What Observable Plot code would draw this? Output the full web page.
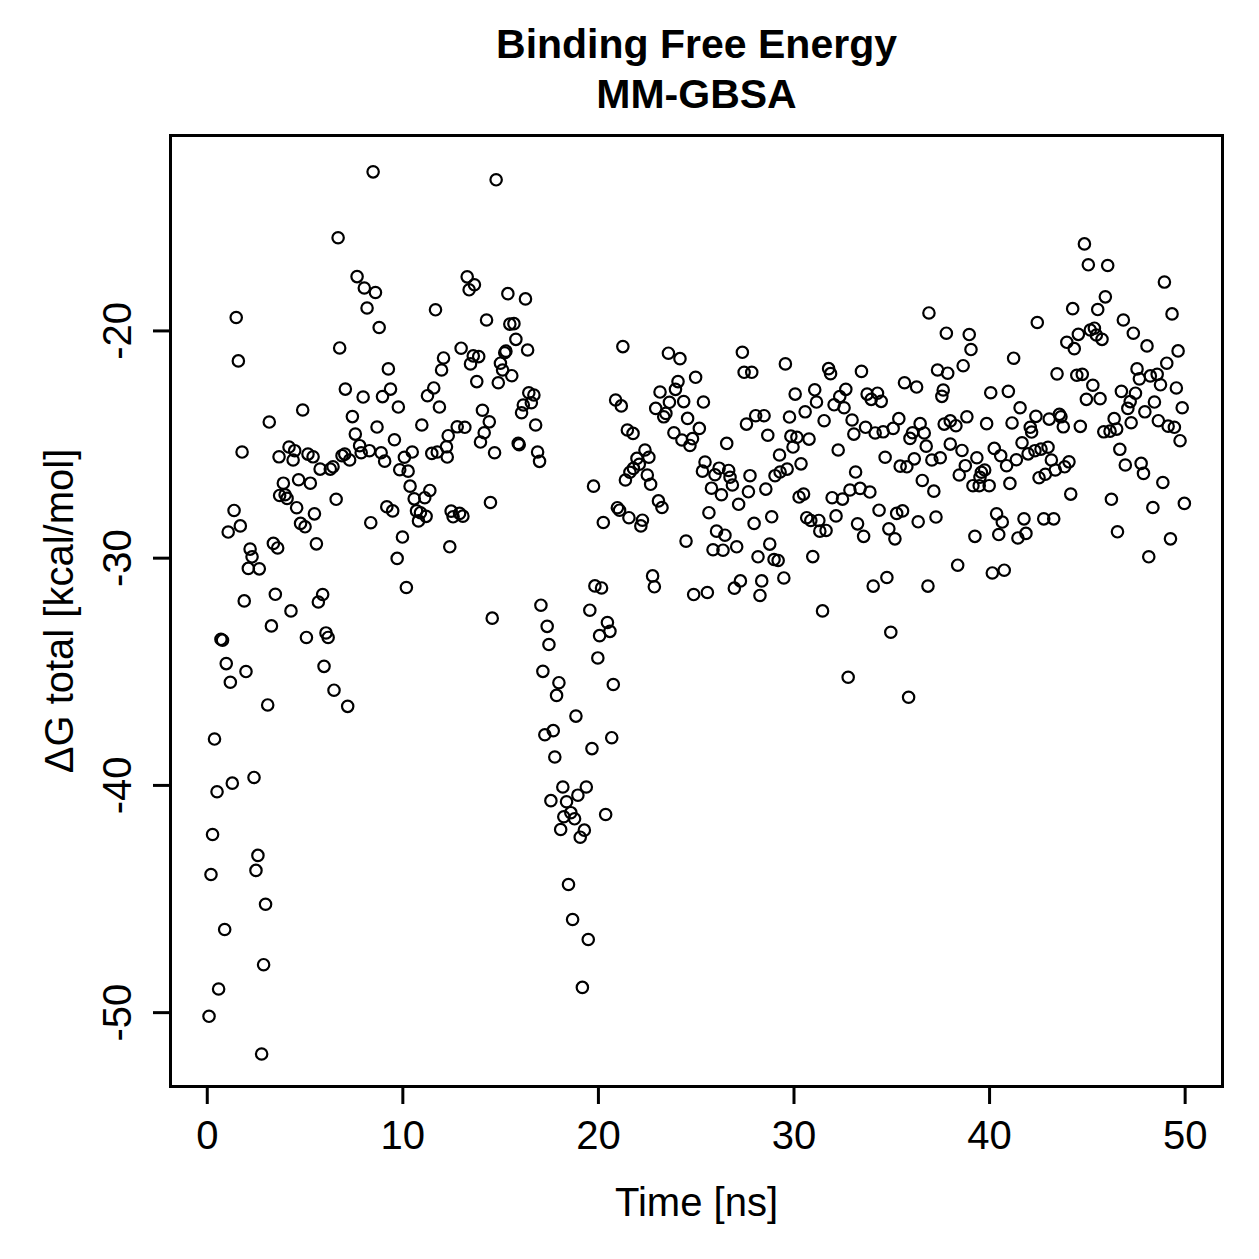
<!DOCTYPE html>
<html>
<head>
<meta charset="utf-8">
<script src="https://cdn.jsdelivr.net/npm/d3@7"></script>
<script src="https://cdn.jsdelivr.net/npm/@observablehq/plot@0.6"></script>
<style>
  html, body { margin: 0; padding: 0; background: #fff; }
  #chart svg { display: block; }
</style>
</head>
<body>
<div id="chart"></div>
<script>
// MM-GBSA binding free energy per frame: [time (ns), ΔG total (kcal/mol)]
const segmentEarly = [
  [0.09,-50.16],[0.19,-43.92],[0.27,-42.16],[0.37,-37.96],[0.50,-40.28],[0.58,-48.96],[0.70,-33.57],[0.78,-33.61],
  [0.89,-46.34],[0.97,-34.64],[1.07,-28.85],[1.18,-35.46],[1.28,-39.90],[1.37,-27.90],[1.48,-19.41],[1.59,-21.32],
  [1.69,-28.58],[1.78,-25.33],[1.89,-31.88],[1.98,-34.99],[2.10,-30.45],[2.19,-29.60],[2.29,-29.94],[2.39,-39.65],
  [2.49,-43.74],[2.59,-43.08],[2.66,-30.47],[2.78,-51.82],[2.88,-47.89],[2.98,-45.23],[3.09,-36.46],[3.17,-24.01],
  [3.28,-32.98],[3.38,-29.35],[3.48,-31.59],[3.60,-29.55],[3.67,-25.54],[3.70,-27.24],[3.89,-26.70],[3.98,-27.21],
  [4.08,-27.37],[4.18,-25.11],[4.28,-32.32],[4.39,-25.68],[4.47,-25.27],[4.57,-27.78],[4.67,-26.55],[4.77,-28.47],
  [4.88,-23.48],[5.00,-28.62],[5.07,-33.49],[5.15,-25.42],[5.27,-26.70],[5.41,-25.54],[5.48,-28.05],[5.58,-29.37],
  [5.68,-31.93],[5.77,-26.08],[5.90,-31.60],[5.97,-34.76],[6.07,-33.29],[6.18,-33.49],[6.29,-26.08],[6.43,-25.98],
  [6.48,-35.81],[6.59,-27.41],[6.69,-15.90],[6.77,-20.75],[6.89,-25.49],[7.03,-25.42],[7.06,-22.56],[7.18,-36.52],
  [7.28,-25.68],[7.42,-23.77],[7.57,-24.54],[7.66,-17.61],[7.79,-25.05],[7.87,-25.36],[7.97,-22.91],[8.03,-18.11],
  [8.17,-18.99],[8.29,-25.27],[8.36,-28.44],[8.48,-13.00],[8.60,-18.31],[8.68,-24.23],[8.79,-19.85],[8.89,-25.36],
  [8.96,-22.89],[9.07,-25.73],[9.18,-27.74],[9.26,-21.67],[9.37,-22.56],[9.48,-27.92],[9.57,-24.79],[9.71,-30.01],
  [9.77,-23.35],[9.84,-26.11],[9.98,-29.07],[10.08,-25.56],[10.18,-31.29],[10.27,-26.17],[10.37,-26.83],[10.48,-25.33],
  [10.58,-27.39],[10.70,-27.92],[10.80,-28.36],[10.90,-28.00],[10.97,-24.14],[11.12,-27.34],[11.19,-28.16],[11.26,-22.85],
  [11.38,-27.02],[11.48,-25.39],[11.58,-22.51],[11.67,-19.07],[11.76,-25.33],[11.87,-23.35],[11.98,-21.72],[12.08,-21.19],
  [12.23,-25.10],[12.27,-25.55],[12.32,-24.61],[12.40,-29.50],[12.47,-27.93],[12.57,-28.18]
];

const segmentMiddle = [
  [12.78,-24.22],[12.90,-28.03],[12.98,-20.76],[13.07,-28.15],[13.17,-24.24],[13.29,-17.62],[13.39,-18.19],[13.46,-21.45],
  [13.60,-21.10],[13.66,-17.97],[13.78,-22.23],[13.88,-21.13],[13.97,-24.89],[14.07,-23.49],[14.16,-24.48],[14.28,-19.52],
  [14.42,-24.00],[14.48,-27.55],[14.57,-32.64],[14.69,-25.36],[14.77,-13.35],[14.88,-22.28],[14.99,-21.42],[15.10,-21.72],
  [15.21,-20.96],[15.27,-20.89],[15.37,-18.36],[15.47,-19.70],[15.57,-21.97],[15.68,-19.68],[15.78,-20.37],[15.90,-24.95],
  [15.95,-25.01],[16.07,-23.60],[16.16,-23.26],[16.27,-18.59],[16.38,-20.84],[16.44,-22.72],[16.57,-23.16],[16.70,-22.82],
  [16.79,-24.14],[16.89,-25.33],[16.99,-25.74],[17.06,-32.07],[17.16,-34.98],[17.26,-37.77],[17.38,-33.00],[17.47,-33.80],
  [17.57,-40.67],[17.69,-37.59],[17.77,-38.75],[17.86,-36.04],[17.98,-35.48],[18.07,-41.94],[18.18,-40.07],[18.23,-41.38],
  [18.37,-40.72],[18.47,-44.36],[18.59,-41.20],[18.68,-45.90],[18.78,-41.47],[18.85,-36.95],[18.95,-40.43],[19.07,-42.28],
  [19.18,-48.89],[19.28,-41.97],[19.38,-40.07],[19.48,-46.78],[19.56,-32.29],[19.67,-38.38],[19.75,-26.83],[19.82,-31.22],
  [19.97,-34.39],[20.06,-33.41],[20.16,-31.31],[20.25,-28.43],[20.37,-41.28],[20.46,-32.83],[20.59,-33.22],[20.68,-37.90],
  [20.76,-35.56],[20.88,-23.04],[20.97,-27.78],[21.08,-27.89],[21.17,-23.30],[21.25,-20.69],[21.38,-26.56],[21.48,-24.36],
  [21.56,-28.22],[21.61,-26.22],[21.77,-24.51],[21.79,-26.05],[21.97,-25.61],[22.09,-25.87],[22.17,-28.58],[22.25,-28.33],
  [22.38,-25.24],[22.50,-26.34],[22.58,-25.56],[22.67,-26.75],[22.77,-30.78],[22.86,-31.26],[22.93,-23.41],[23.07,-27.48],
  [23.15,-22.69],[23.25,-27.77],[23.34,-23.78],[23.45,-23.63],[23.58,-20.98],[23.63,-23.14],[23.86,-24.48],[23.94,-22.57],
  [24.07,-22.23],[24.17,-21.22],[24.27,-24.80],[24.36,-23.11],[24.48,-29.25],[24.56,-23.85],[24.68,-25.04],[24.81,-24.74],
  [24.87,-31.60]
];

const segmentLate = [
  [24.97,-22.04],[25.16,-24.29],[25.32,-26.17],[25.37,-23.13],[25.45,-25.77],[25.57,-31.51],[25.65,-28.00],[25.78,-26.92],
  [25.86,-29.63],[25.96,-26.33],[26.04,-28.81],[26.17,-26.04],[26.29,-27.21],[26.37,-29.65],[26.47,-28.99],[26.56,-24.95],
  [26.66,-26.14],[26.73,-26.44],[26.85,-26.78],[26.95,-31.32],[27.07,-29.50],[27.17,-27.63],[27.26,-31.00],[27.36,-20.94],
  [27.45,-21.82],[27.57,-24.10],[27.67,-27.08],[27.75,-26.37],[27.84,-21.82],[27.96,-28.47],[28.04,-23.73],[28.16,-29.94],
  [28.26,-31.64],[28.35,-31.00],[28.47,-23.73],[28.56,-26.96],[28.66,-24.59],[28.76,-29.38],[28.86,-28.18],[28.98,-30.06],
  [29.03,-26.37],[29.19,-30.10],[29.26,-25.46],[29.29,-26.21],[29.48,-30.87],[29.56,-21.45],[29.65,-26.08],[29.77,-23.79],
  [29.84,-24.63],[29.95,-25.11],[30.06,-22.78],[30.15,-24.68],[30.26,-27.31],[30.36,-25.85],[30.49,-27.18],[30.57,-23.56],
  [30.65,-28.22],[30.77,-24.76],[30.86,-28.34],[30.96,-29.93],[31.06,-22.59],[31.15,-23.13],[31.27,-28.34],[31.32,-28.81],
  [31.46,-32.32],[31.54,-23.95],[31.64,-28.78],[31.77,-21.66],[31.87,-21.88],[31.95,-27.34],[32.05,-23.25],[32.15,-28.14],
  [32.26,-25.24],[32.34,-22.89],[32.48,-27.40],[32.56,-23.38],[32.65,-22.57],[32.77,-35.24],[32.86,-27.00],[32.97,-23.92],
  [33.06,-24.54],[33.15,-26.21],[33.25,-28.49],[33.38,-26.93],[33.45,-21.78],[33.56,-29.04],[33.66,-24.24],[33.74,-22.78],
  [33.88,-27.09],[33.95,-23.01],[34.05,-31.23],[34.15,-24.49],[34.27,-22.74],[34.35,-27.89],[34.46,-23.10],[34.56,-24.44],
  [34.66,-25.56],[34.75,-30.85],[34.85,-28.71],[34.95,-33.26],[35.07,-24.29],[35.16,-29.15],[35.25,-28.03],[35.36,-23.86],
  [35.43,-25.95],[35.55,-27.92],[35.65,-22.28],[35.77,-25.98],[35.86,-36.12],[35.93,-24.73],[36.06,-24.48],[36.15,-25.63],
  [36.27,-22.47],[36.35,-28.40],[36.45,-24.08],[36.56,-26.58],[36.66,-24.49],[36.76,-25.07],[36.85,-31.23],[36.90,-19.21],
  [37.05,-25.68],[37.15,-27.05],[37.26,-28.19],[37.34,-21.72],[37.48,-25.58],[37.56,-22.88],[37.63,-22.60],[37.68,-24.10],
  [37.79,-20.10],[37.86,-21.86],[37.99,-23.96],[37.99,-24.98],[38.28,-24.17],[38.37,-30.31],[38.45,-26.34],[38.59,-25.26],
  [38.65,-21.53],[38.76,-25.93],[38.84,-23.78],[38.96,-20.16],[39.05,-20.82],[39.15,-26.81],[39.25,-29.04],[39.35,-25.58],
  [39.47,-26.81],[39.51,-26.44],[39.58,-26.22],[39.75,-26.12],[39.85,-24.08],[39.98,-26.81],[40.06,-22.72],[40.14,-30.65],
  [40.24,-25.17],[40.36,-28.05],[40.47,-28.96],[40.57,-25.49],[40.65,-28.41],[40.75,-30.53],[40.87,-25.93],[40.96,-22.66],
  [41.04,-26.71],[41.15,-24.05],[41.23,-21.20],[41.37,-25.67],[41.45,-29.11],[41.56,-23.38],[41.66,-24.92],[41.76,-28.27],
  [41.86,-28.91],[41.97,-25.41],[42.08,-24.24],[42.15,-24.45],[42.32,-25.27],[42.37,-23.76],[42.44,-19.63],[42.53,-26.46],
  [42.63,-25.20],[42.77,-28.27],[42.85,-26.31],[42.99,-25.12],[43.05,-23.88],[43.16,-25.68],[43.28,-28.27],[43.36,-26.12],
  [43.45,-21.89],[43.57,-23.67],[43.65,-23.78],[43.77,-24.22],[43.84,-25.98],[43.95,-20.50],[44.06,-25.76],[44.15,-27.18],
  [44.25,-19.02],[44.33,-20.78],[44.46,-21.95],[44.54,-20.15],[44.64,-24.20],[44.74,-21.91],[44.85,-16.17],[44.95,-23.01],
  [45.05,-17.09],[45.15,-19.96],[45.28,-22.39],[45.36,-19.88],[45.46,-20.18],[45.53,-19.06],[45.65,-22.98],[45.75,-20.37],
  [45.84,-24.44],[45.92,-18.50],[46.04,-17.12],[46.16,-24.41],[46.23,-27.41],[46.37,-23.86],[46.50,-24.32],[46.54,-28.84],
  [46.66,-25.21],[46.74,-22.66],[46.84,-19.52],[46.94,-25.90],[47.07,-23.41],[47.19,-23.11],[47.24,-24.04],[47.35,-20.10],
  [47.46,-22.74],[47.54,-21.67],[47.66,-22.11],[47.75,-25.83],[47.87,-26.27],[47.94,-23.56],[48.05,-20.66],[48.14,-29.94],
  [48.22,-21.98],[48.35,-27.77],[48.43,-23.13],[48.57,-21.91],[48.63,-23.95],[48.74,-22.37],[48.86,-26.67],[48.94,-17.85],
  [49.06,-21.42],[49.13,-24.19],[49.25,-29.15],[49.33,-19.25],[49.45,-24.24],[49.55,-22.51],[49.64,-20.88],[49.74,-24.83],
  [49.85,-23.38],[49.96,-27.59]
];

const xTicks = [0, 10, 20, 30, 40, 50];
const yTicks = [-50, -40, -30, -20];
const titleLines = ["Binding Free Energy", "MM-GBSA"];
const xLabel = "Time [ns]";
const yLabel = "ΔG total [kcal/mol]";

const frames = [...segmentEarly, ...segmentMiddle, ...segmentLate]
  .map(([time, dG]) => ({time, dG}));

const font = "'Liberation Sans', Arial, Helvetica, sans-serif";

const chart = Plot.plot({
  width: 1259,
  height: 1259,
  marginLeft: 170,
  marginRight: 37,
  marginTop: 135,
  marginBottom: 173,
  style: {fontFamily: font, fontSize: "40px", color: "#000", background: "#fff"},
  x: {domain: [-1.88, 51.91]},
  y: {domain: [-53.25, -11.40]},
  marks: [
    Plot.axisX(xTicks, {
      tickSize: 18, tickPadding: 16, strokeWidth: 3, fontSize: 40,
      label: null, tickFormat: d => String(d)
    }),
    Plot.axisY(yTicks, {
      tickSize: 17, tickPadding: 23, tickRotate: -90, strokeWidth: 3, fontSize: 40,
      label: null, tickFormat: d => String(d)
    }),
    Plot.frame({stroke: "#000", strokeWidth: 3}),
    Plot.dot(frames, {x: "time", y: "dG", r: 5.7, stroke: "#000", strokeWidth: 2.2, fill: "none"}),
    Plot.text([titleLines[0]], {
      text: d => d, frameAnchor: "top", dy: -78, lineAnchor: "bottom",
      fontWeight: "bold", fontSize: 41
    }),
    Plot.text([titleLines[1]], {
      text: d => d, frameAnchor: "top", dy: -28, lineAnchor: "bottom",
      fontWeight: "bold", fontSize: 41
    }),
    Plot.text([xLabel], {
      text: d => d, frameAnchor: "bottom", dy: 129, lineAnchor: "bottom", fontSize: 40
    }),
    Plot.text([yLabel], {
      text: d => d, frameAnchor: "left", dx: -98, rotate: -90,
      textAnchor: "middle", lineAnchor: "bottom", fontSize: 40
    })
  ]
});

document.getElementById("chart").appendChild(chart);
</script>
</body>
</html>
